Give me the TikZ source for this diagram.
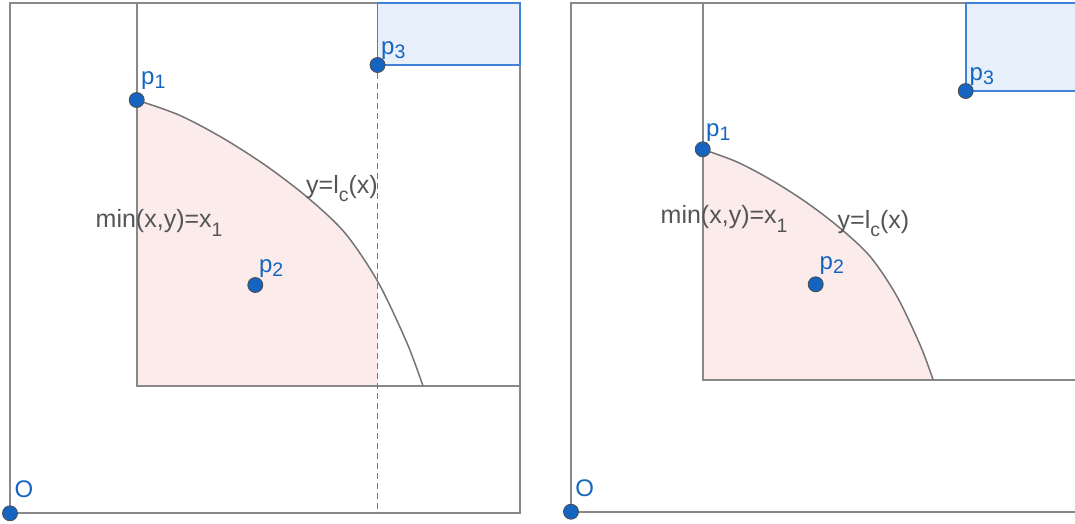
\documentclass[tikz,border=0pt]{standalone}
\usepackage{fontspec}
\setmainfont{Liberation Sans}
\usepackage{xcolor}
\usepackage{tikz}
\usetikzlibrary{positioning,calc}
\definecolor{framegray}{RGB}{136, 136, 136}
\definecolor{labelgray}{RGB}{85, 85, 85}
\definecolor{ptblue}{RGB}{21, 101, 192}
\definecolor{regionpink}{RGB}{251, 235, 235}
\definecolor{boxblue}{RGB}{66, 130, 214}
\definecolor{boxfill}{RGB}{231, 239, 250}

% lowered subscript as the labels print it
\newcommand{\gsub}[2][-4pt]{\raisebox{#1}{\fontsize{19.5}{19.5}\selectfont #2}}

\tikzset{
  frameline/.style={draw=framegray, line width=1.7pt},
  curveline/.style={draw=framegray!85!black, line width=1.5pt},
  gpoint/.style={circle, fill=ptblue, draw=black!70, line width=0.8pt, inner sep=0pt, minimum size=15pt},
  ptlabel/.style={anchor=base west, inner sep=0pt, text=ptblue, font=\fontsize{24}{24}\selectfont},
  eqlabel/.style={anchor=base west, inner sep=0pt, text=labelgray, font=\fontsize{25}{25}\selectfont}
}

\begin{document}
\begin{tikzpicture}[x=1pt, y=-1pt, >=stealth]
        \useasboundingbox (0,0) rectangle (1075,523);

        % Left panel
        \coordinate (lO) at (10,513.3);
        \coordinate (lcorner) at (136.7,386);
        \coordinate (lp3foot) at (377.5,513.3);
        \begin{scope}
            \clip (136.7,0) rectangle (377.5,386);
            \fill[regionpink] (lcorner) -- plot[smooth, tension=0.5] coordinates {(136.7,100) (179,115) (221,137) (265,165) (307,197) (345,233) (378,282) (407,343) (423,386)} -- cycle;
        \end{scope}
        \draw[frameline] (10,2.7) rectangle (520,513.3);
        \draw[frameline] (136.7,2.7) -- (lcorner) -- (520,386);
        \draw[curveline] plot[smooth, tension=0.5] coordinates {(136.7,100) (179,115) (221,137) (265,165) (307,197) (345,233) (378,282) (407,343) (423,386)};
        \draw[draw=boxblue, fill=boxfill, line width=1.7pt] (377.5,2.7) rectangle (520,65);
        \node[gpoint] (lp3) at (377.5,65) {};
        \draw[framegray!88!black, line width=1.8pt, dash pattern=on 6pt off 4pt] (lp3) -- (lp3foot);
        \node[gpoint] (lo) at (lO) {};
        \node[gpoint] (lp1) at (136.7,100) {};
        \node[gpoint] (lp2) at (255.3,285) {};
        \node[ptlabel] (lolabel) at (14.5,497.3) {O};
        \node[ptlabel] (lp1label) at (141,84) {p\gsub{1}};
        \node[ptlabel] (lp2label) at (258.8,272.7) {p\gsub{2}};
        \node[ptlabel] (lp3label) at (381,54.6) {p\gsub{3}};
        \node[eqlabel] (lminlabel) at (95.5,227.7) {min(x,y)=x\gsub[-9pt]{1}};
        \node[eqlabel] (lcurvelabel) at (306,193) {y=l\gsub[-8.5pt]{c}(x)};

        % Right panel
        \coordinate (rO) at (571,511.7);
        \coordinate (rcorner) at (702.7,380);
        \fill[regionpink] (rcorner) -- plot[smooth, tension=0.5] coordinates {(702.7,149.3) (736.7,161.8) (770.6,179.6) (806,202.1) (839.8,227.9) (870.4,256.8) (896.9,296.3) (920.3,345.4) (933.2,380)} -- cycle;
        \draw[frameline] (1075,2.7) -- (571,2.7) -- (rO) -- (1075,511.7);
        \draw[frameline] (702.7,2.7) -- (rcorner) -- (1075,380);
        \draw[curveline] plot[smooth, tension=0.5] coordinates {(702.7,149.3) (736.7,161.8) (770.6,179.6) (806,202.1) (839.8,227.9) (870.4,256.8) (896.9,296.3) (920.3,345.4) (933.2,380)};
        \draw[draw=boxblue, fill=boxfill, line width=1.7pt] (1080,2.7) -- (965.7,2.7) -- (965.7,91) -- (1080,91);
        \node[gpoint] (ro) at (rO) {};
        \node[gpoint] (rp1) at (702.7,149.3) {};
        \node[gpoint] (rp2) at (815.7,284.3) {};
        \node[gpoint] (rp3) at (965.7,91) {};
        \node[ptlabel] (rolabel) at (575.2,496.7) {O};
        \node[ptlabel] (rp1label) at (706,136.7) {p\gsub{1}};
        \node[ptlabel] (rp2label) at (819.5,269.3) {p\gsub{2}};
        \node[ptlabel] (rp3label) at (969.5,80) {p\gsub{3}};
        \node[eqlabel] (rminlabel) at (660.5,223.3) {min(x,y)=x\gsub[-9pt]{1}};
        \node[eqlabel] (rcurvelabel) at (837.5,228.3) {y=l\gsub[-8.5pt]{c}(x)};
    \end{tikzpicture}
\end{document}
